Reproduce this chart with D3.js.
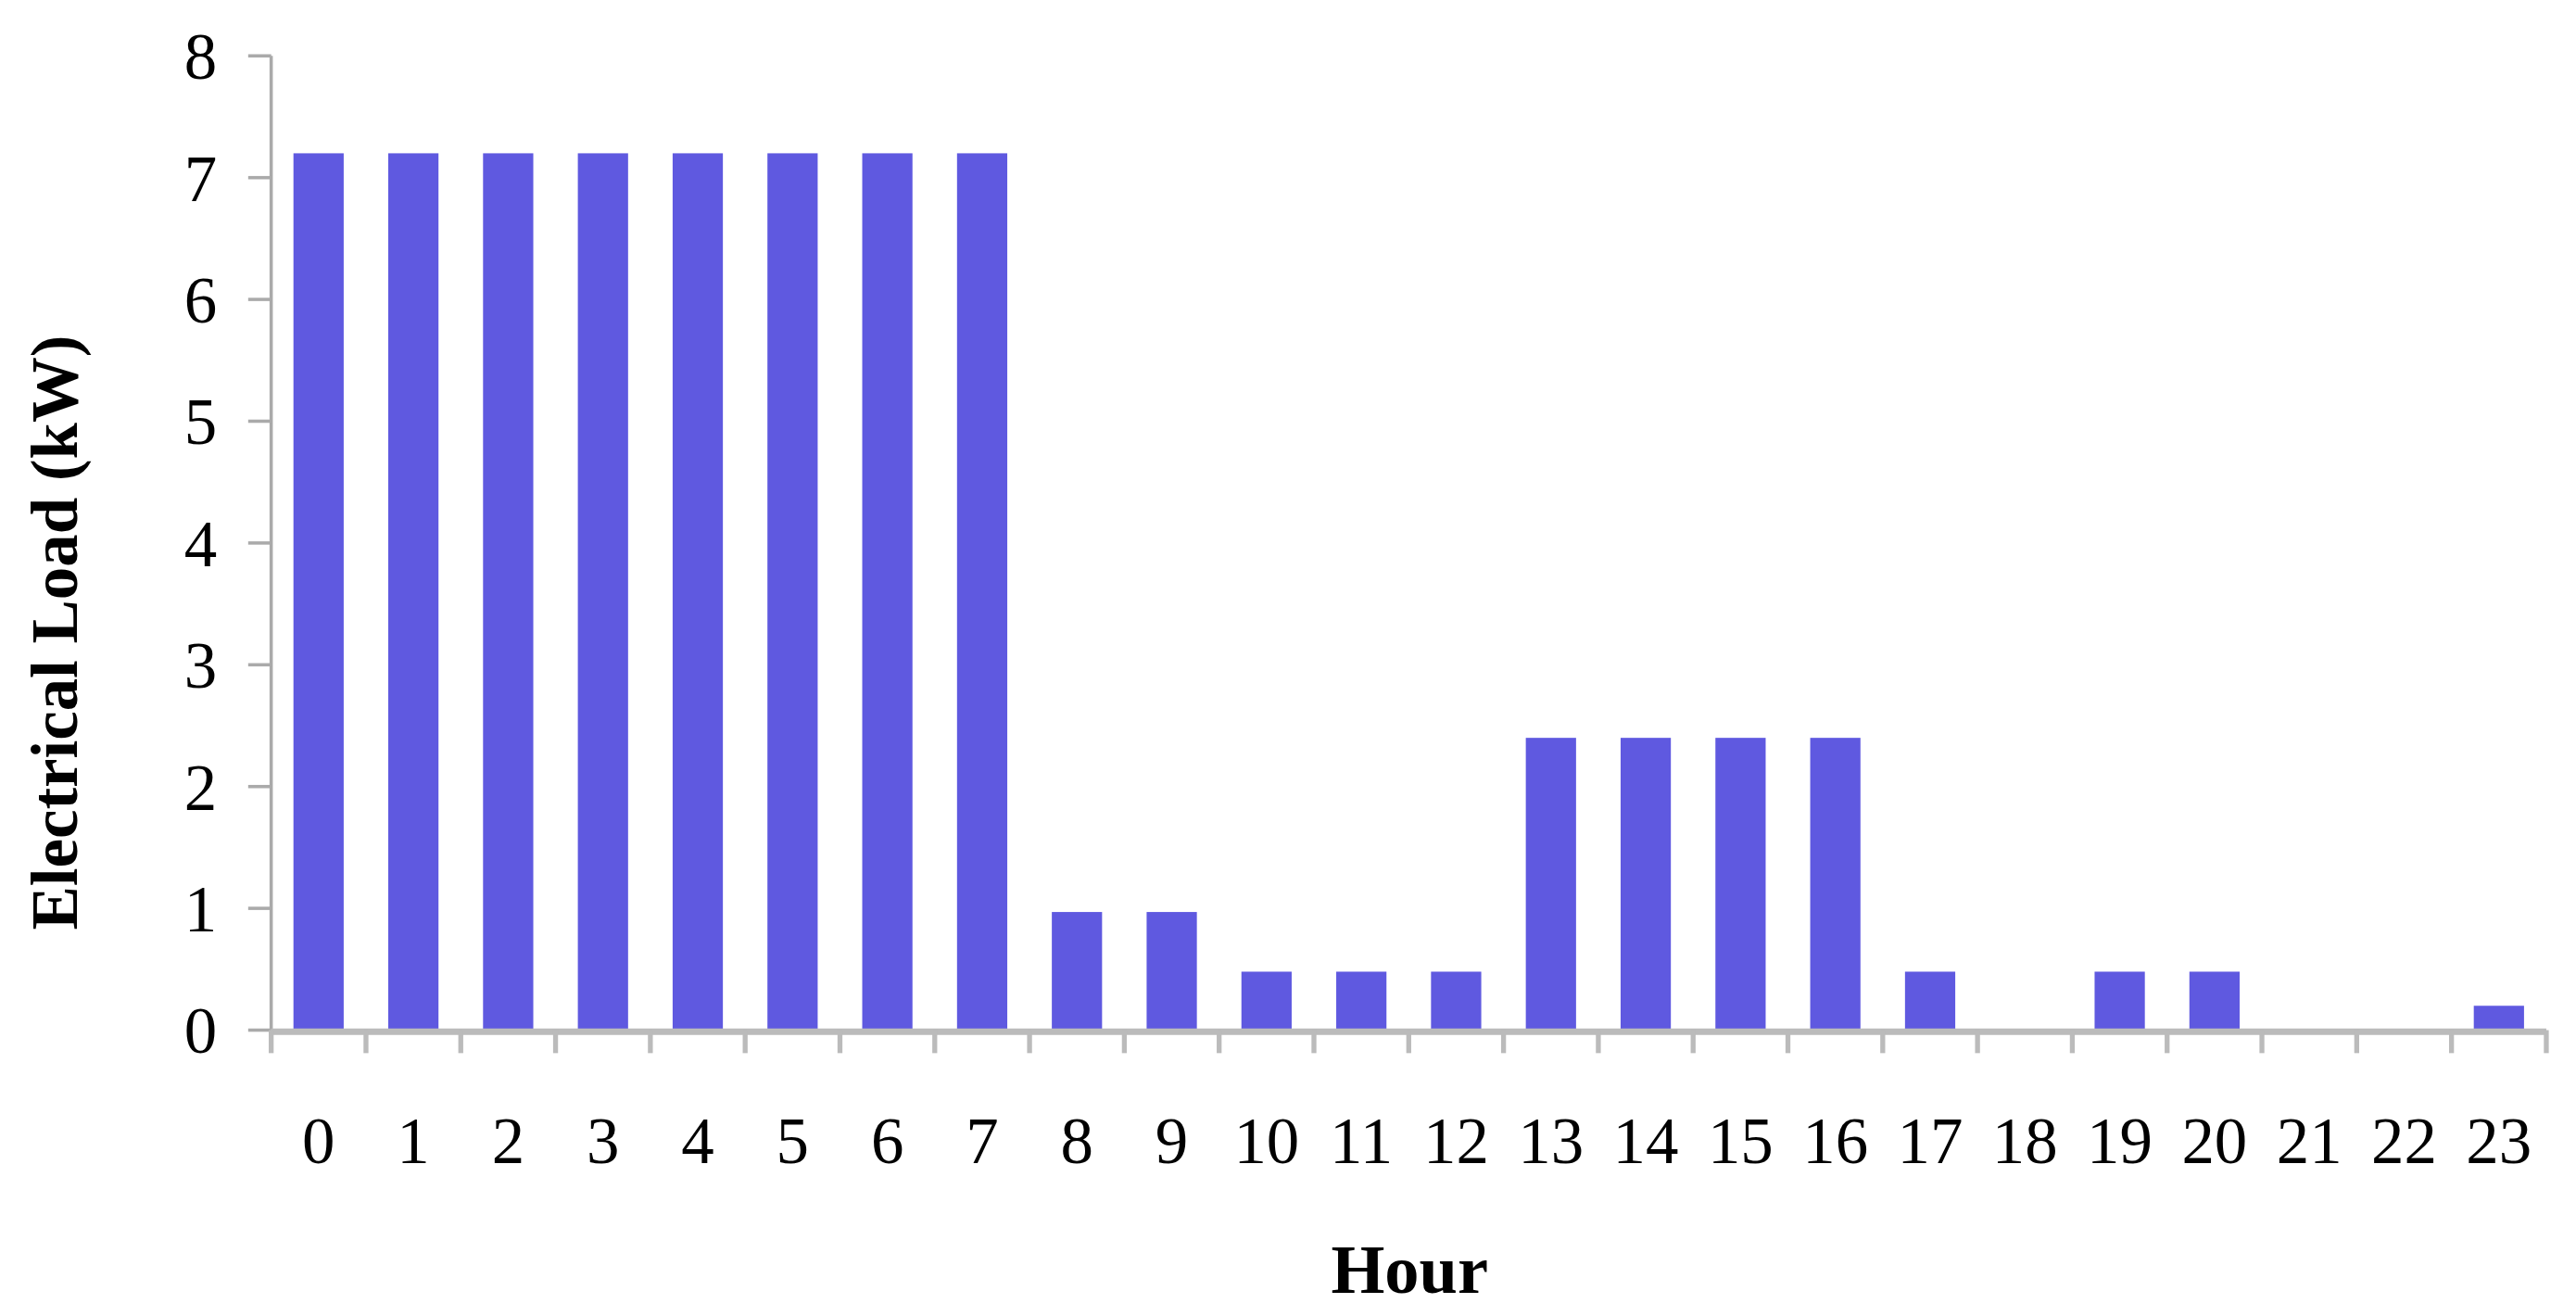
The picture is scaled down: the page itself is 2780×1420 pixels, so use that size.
<!DOCTYPE html>
<html><head><meta charset="utf-8">
<script src="https://cdn.jsdelivr.net/npm/d3@7"></script>
<style>body{margin:0;background:#fff}</style></head>
<body><svg id="c" width="2780" height="1420" viewBox="0 0 1568 801"></svg>
<script>
const hours = d3.range(24).map(String);
const load = [7.2,7.2,7.2,7.2,7.2,7.2,7.2,7.2,0.97,0.97,0.48,0.48,0.48,2.4,2.4,2.4,2.4,0.48,0,0.48,0.48,0,0,0.2];
const yTicks = [0,1,2,3,4,5,6,7,8];
const svg = d3.select("#c");
const L=165,R=1550,T=34,B=627;
const x = d3.scaleBand().domain(hours).range([L,R]).paddingInner(0.47).paddingOuter(0.235);
const y = d3.scaleLinear().domain([0,8]).range([B,T]);
const font="'Liberation Serif','DejaVu Serif',serif";
svg.selectAll("rect").data(load).join("rect")
 .attr("x",(d,i)=>x(hours[i])).attr("width",x.bandwidth())
 .attr("y",d=>y(d)).attr("height",d=>B-y(d)).attr("fill","#5f59e0");
// y axis
svg.append("line").attr("x1",L).attr("x2",L).attr("y1",T).attr("y2",B).attr("stroke","#aaa").attr("stroke-width",2);
const yg=svg.append("g");
yTicks.forEach(t=>{
 yg.append("line").attr("x1",151).attr("x2",L).attr("y1",y(t)).attr("y2",y(t)).attr("stroke","#aaa").attr("stroke-width",2);
 yg.append("text").attr("x",132).attr("y",y(t)).attr("dy","0.35em").attr("text-anchor","end")
  .attr("font-family",font).attr("font-size",40).text(t);
});
// x axis
svg.append("line").attr("x1",L).attr("x2",R).attr("y1",B+1).attr("y2",B+1).attr("stroke","#bbb").attr("stroke-width",4);
const step=(R-L)/24;
d3.range(25).forEach(i=>{
 svg.append("line").attr("x1",L+i*step).attr("x2",L+i*step).attr("y1",B).attr("y2",B+14).attr("stroke","#bbb").attr("stroke-width",3);
});
hours.forEach(h=>{
 svg.append("text").attr("x",x(h)+x.bandwidth()/2).attr("y",708).attr("text-anchor","middle")
  .attr("font-family",font).attr("font-size",40).text(h);
});
svg.append("text").attr("x",858).attr("y",787).attr("text-anchor","middle").attr("font-family",font)
 .attr("font-weight","bold").attr("font-size",42).text("Hour");
svg.append("text").attr("transform","translate(47,385) rotate(-90)").attr("text-anchor","middle").attr("font-family",font)
 .attr("font-weight","bold").attr("font-size",40).text("Electrical Load (kW)");
</script></body></html>
